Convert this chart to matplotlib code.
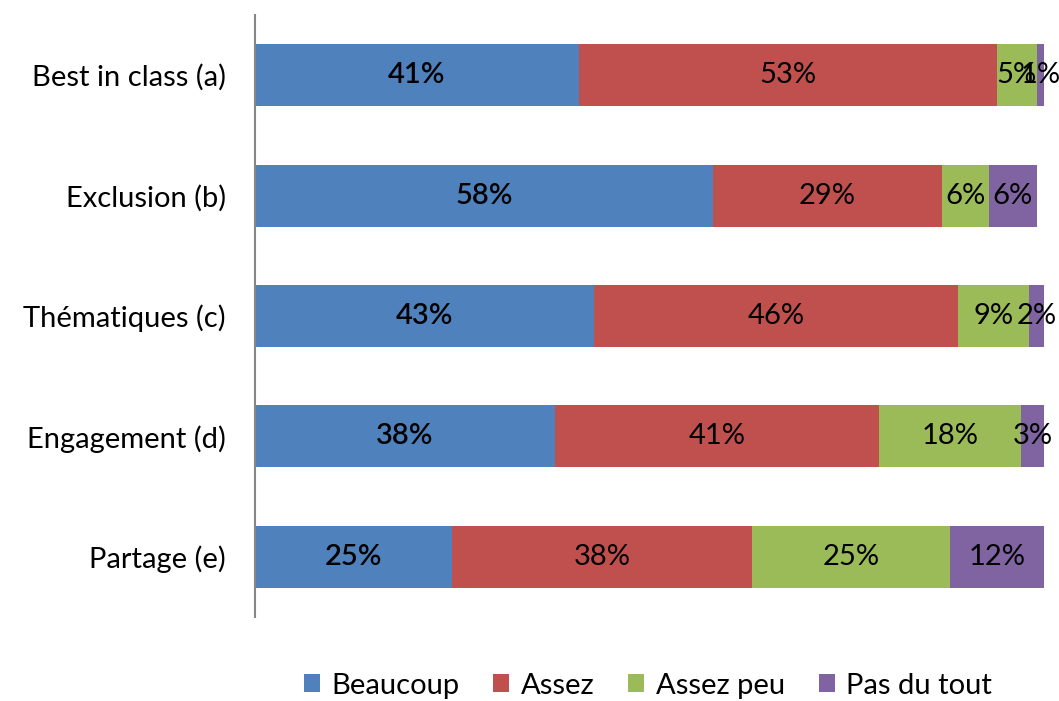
import matplotlib
matplotlib.use("Agg")
import matplotlib.pyplot as plt
import numpy as np

# ---------- Daten ----------
categories = ["Best in class (a)", "Exclusion (b)", "Thématiques (c)", "Engagement (d)", "Partage (e)"]
beaucoup = [41, 58, 43, 38, 25]
assez = [53, 29, 46, 41, 38]
assez_peu = [5, 6, 9, 18, 25]
pas_du_tout = [1, 6, 2, 3, 12]

series = [
    ("Beaucoup", beaucoup, "#4F81BD"),
    ("Assez", assez, "#C0504D"),
    ("Assez peu", assez_peu, "#9BBB59"),
    ("Pas du tout", pas_du_tout, "#8064A2"),
]

plt.rcParams["font.family"] = ["Lato", "DejaVu Sans"]

fig = plt.figure(figsize=(10.59, 7.01), dpi=100)
ax = fig.add_axes([0.2408, 0.1198, 0.7455, 0.8588])

y = np.arange(len(categories))
left = np.zeros(len(categories))
for name, vals, col in series:
    vals = np.array(vals, dtype=float)
    ax.barh(y, vals, left=left, height=0.515, color=col, label=name)
    for yi, l, v in zip(y, left, vals):
        ax.text(l + v / 2, yi, f"{int(v)}%", ha="center", va="center",
                fontsize=21, color="black",
                fontweight="semibold" if name == "Beaucoup" else "normal")
    left += vals

ax.set_xlim(0, 100)
ax.set_ylim(len(categories) - 0.5, -0.5)
ax.set_yticks(y)
ax.set_yticklabels(categories, fontsize=21)
ax.tick_params(axis="y", length=0, pad=21)
ax.set_xticks([])
for s in ["top", "right", "bottom"]:
    ax.spines[s].set_visible(False)
ax.spines["left"].set_color("#868686")
ax.spines["left"].set_linewidth(1.5)

fig.legend(loc="center", bbox_to_anchor=(0.612, 0.022), ncol=4, frameon=False,
           fontsize=21, handlelength=0.55, handleheight=0.55, columnspacing=1.15,
           handletextpad=0.4)

fig.savefig("out.png", dpi=100)
